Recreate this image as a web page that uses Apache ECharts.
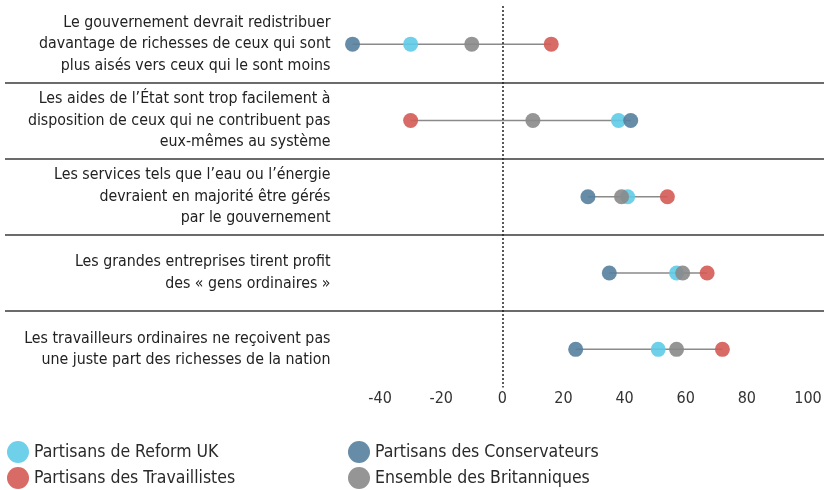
<!DOCTYPE html>
<html>
<head>
<meta charset="utf-8">
<script src="https://cdn.jsdelivr.net/npm/echarts@6/dist/echarts.min.js"></script>
<style>
  html, body { margin: 0; padding: 0; background: #fff; }
  #chart { width: 824px; height: 490px; }
</style>
</head>
<body>
<div id="chart"></div>
<script>
const FONT = "'Liberation Sans Narrow', 'DejaVu Sans Condensed', 'Noto Sans', sans-serif"

const statements = [
  'Le gouvernement devrait redistribuer\ndavantage de richesses de ceux qui sont\nplus aisés vers ceux qui le sont moins',
  'Les aides de l’État sont trop facilement à\ndisposition de ceux qui ne contribuent pas\neux-mêmes au système',
  'Les services tels que l’eau ou l’énergie\ndevraient en majorité être gérés\npar le gouvernement',
  'Les grandes entreprises tirent profit\ndes « gens ordinaires »',
  'Les travailleurs ordinaires ne reçoivent pas\nune juste part des richesses de la nation'
]

const reform = [-30, 38, 41, 57, 51]
const conservateurs = [-49, 42, 28, 35, 24]
const travaillistes = [16, -30, 54, 67, 72]
const ensemble = [-10, 10, 39, 59, 57]

const xTicks = [-40, -20, 0, 20, 40, 60, 80, 100]

const groups = [
  { name: 'Partisans de Reform UK', values: reform, color: '#5fcbe8' },
  { name: 'Partisans des Conservateurs', values: conservateurs, color: '#55809f' },
  { name: 'Partisans des Travaillistes', values: travaillistes, color: '#d45b55' },
  { name: 'Ensemble des Britanniques', values: ensemble, color: '#8a8a8a' }
]

// min / max per statement for the connecting line
const ranges = statements.map((s, i) => {
  const vals = groups.map((g) => g.values[i])
  return [Math.min(...vals), Math.max(...vals), i]
})

const chart = echarts.init(document.getElementById('chart'))

const legendBase = {
  orient: 'vertical',
  top: 441,
  padding: 0,
  itemGap: 4,
  itemWidth: 22,
  itemHeight: 22,
  icon: 'circle',
  textStyle: { fontFamily: FONT, fontSize: 17.5, color: '#2a2a2a' }
}

chart.setOption({
  animation: false,
  textStyle: { fontFamily: FONT },
  grid: [
    { left: 349.5, right: 16, top: 6, height: 381.5, outerBoundsMode: 'none' },
    { left: 5, right: 0, top: 6, height: 381.5, outerBoundsMode: 'none' }
  ],
  legend: [
    { ...legendBase, left: 7, data: ['Partisans de Reform UK', 'Partisans des Travaillistes'] },
    { ...legendBase, left: 348, data: ['Partisans des Conservateurs', 'Ensemble des Britanniques'] }
  ],
  xAxis: [
    {
      type: 'value',
      gridIndex: 0,
      min: -50,
      max: 100,
      axisLine: { show: false },
      axisTick: { show: false },
      splitLine: { show: false },
      axisLabel: {
        customValues: xTicks,
        margin: 3,
        fontFamily: FONT,
        fontSize: 16,
        color: '#333'
      }
    },
    { type: 'value', gridIndex: 1, show: false, min: 0, max: 1 }
  ],
  yAxis: [
    {
      type: 'category',
      gridIndex: 0,
      inverse: true,
      data: statements,
      axisLine: { show: false },
      axisTick: { show: false },
      splitLine: { show: false },
      axisLabel: {
        margin: 19,
        align: 'right',
        fontFamily: FONT,
        fontSize: 15.8,
        lineHeight: 21.5,
        color: '#222'
      }
    },
    {
      type: 'category',
      gridIndex: 1,
      inverse: true,
      data: statements,
      axisLine: { show: false },
      axisTick: { show: false },
      axisLabel: { show: false },
      splitLine: {
        show: true,
        lineStyle: {
          width: 1.5,
          color: ['transparent', '#3a3a3a', '#3a3a3a', '#3a3a3a', '#3a3a3a', 'transparent']
        }
      }
    }
  ],
  series: [
    {
      type: 'custom',
      xAxisIndex: 0,
      yAxisIndex: 0,
      silent: true,
      data: ranges,
      encode: { x: [0, 1], y: 2 },
      renderItem: (params, api) => {
        const p1 = api.coord([api.value(0), api.value(2)])
        const p2 = api.coord([api.value(1), api.value(2)])
        return {
          type: 'line',
          shape: { x1: p1[0], y1: p1[1], x2: p2[0], y2: p2[1] },
          style: { stroke: '#8a8a8a', lineWidth: 1.5 }
        }
      }
    },
    ...groups.map((g, k) => ({
      name: g.name,
      type: 'scatter',
      xAxisIndex: 0,
      yAxisIndex: 0,
      symbolSize: 15,
      itemStyle: { color: g.color, opacity: 0.9 },
      data: g.values.map((v, i) => [v, i]),
      markLine: k === 0 ? {
        silent: true,
        symbol: 'none',
        label: { show: false },
        lineStyle: { type: [2, 2], color: '#222', width: 1.5 },
        data: [{ xAxis: 0 }]
      } : undefined
    }))
  ]
})
</script>
</body>
</html>
